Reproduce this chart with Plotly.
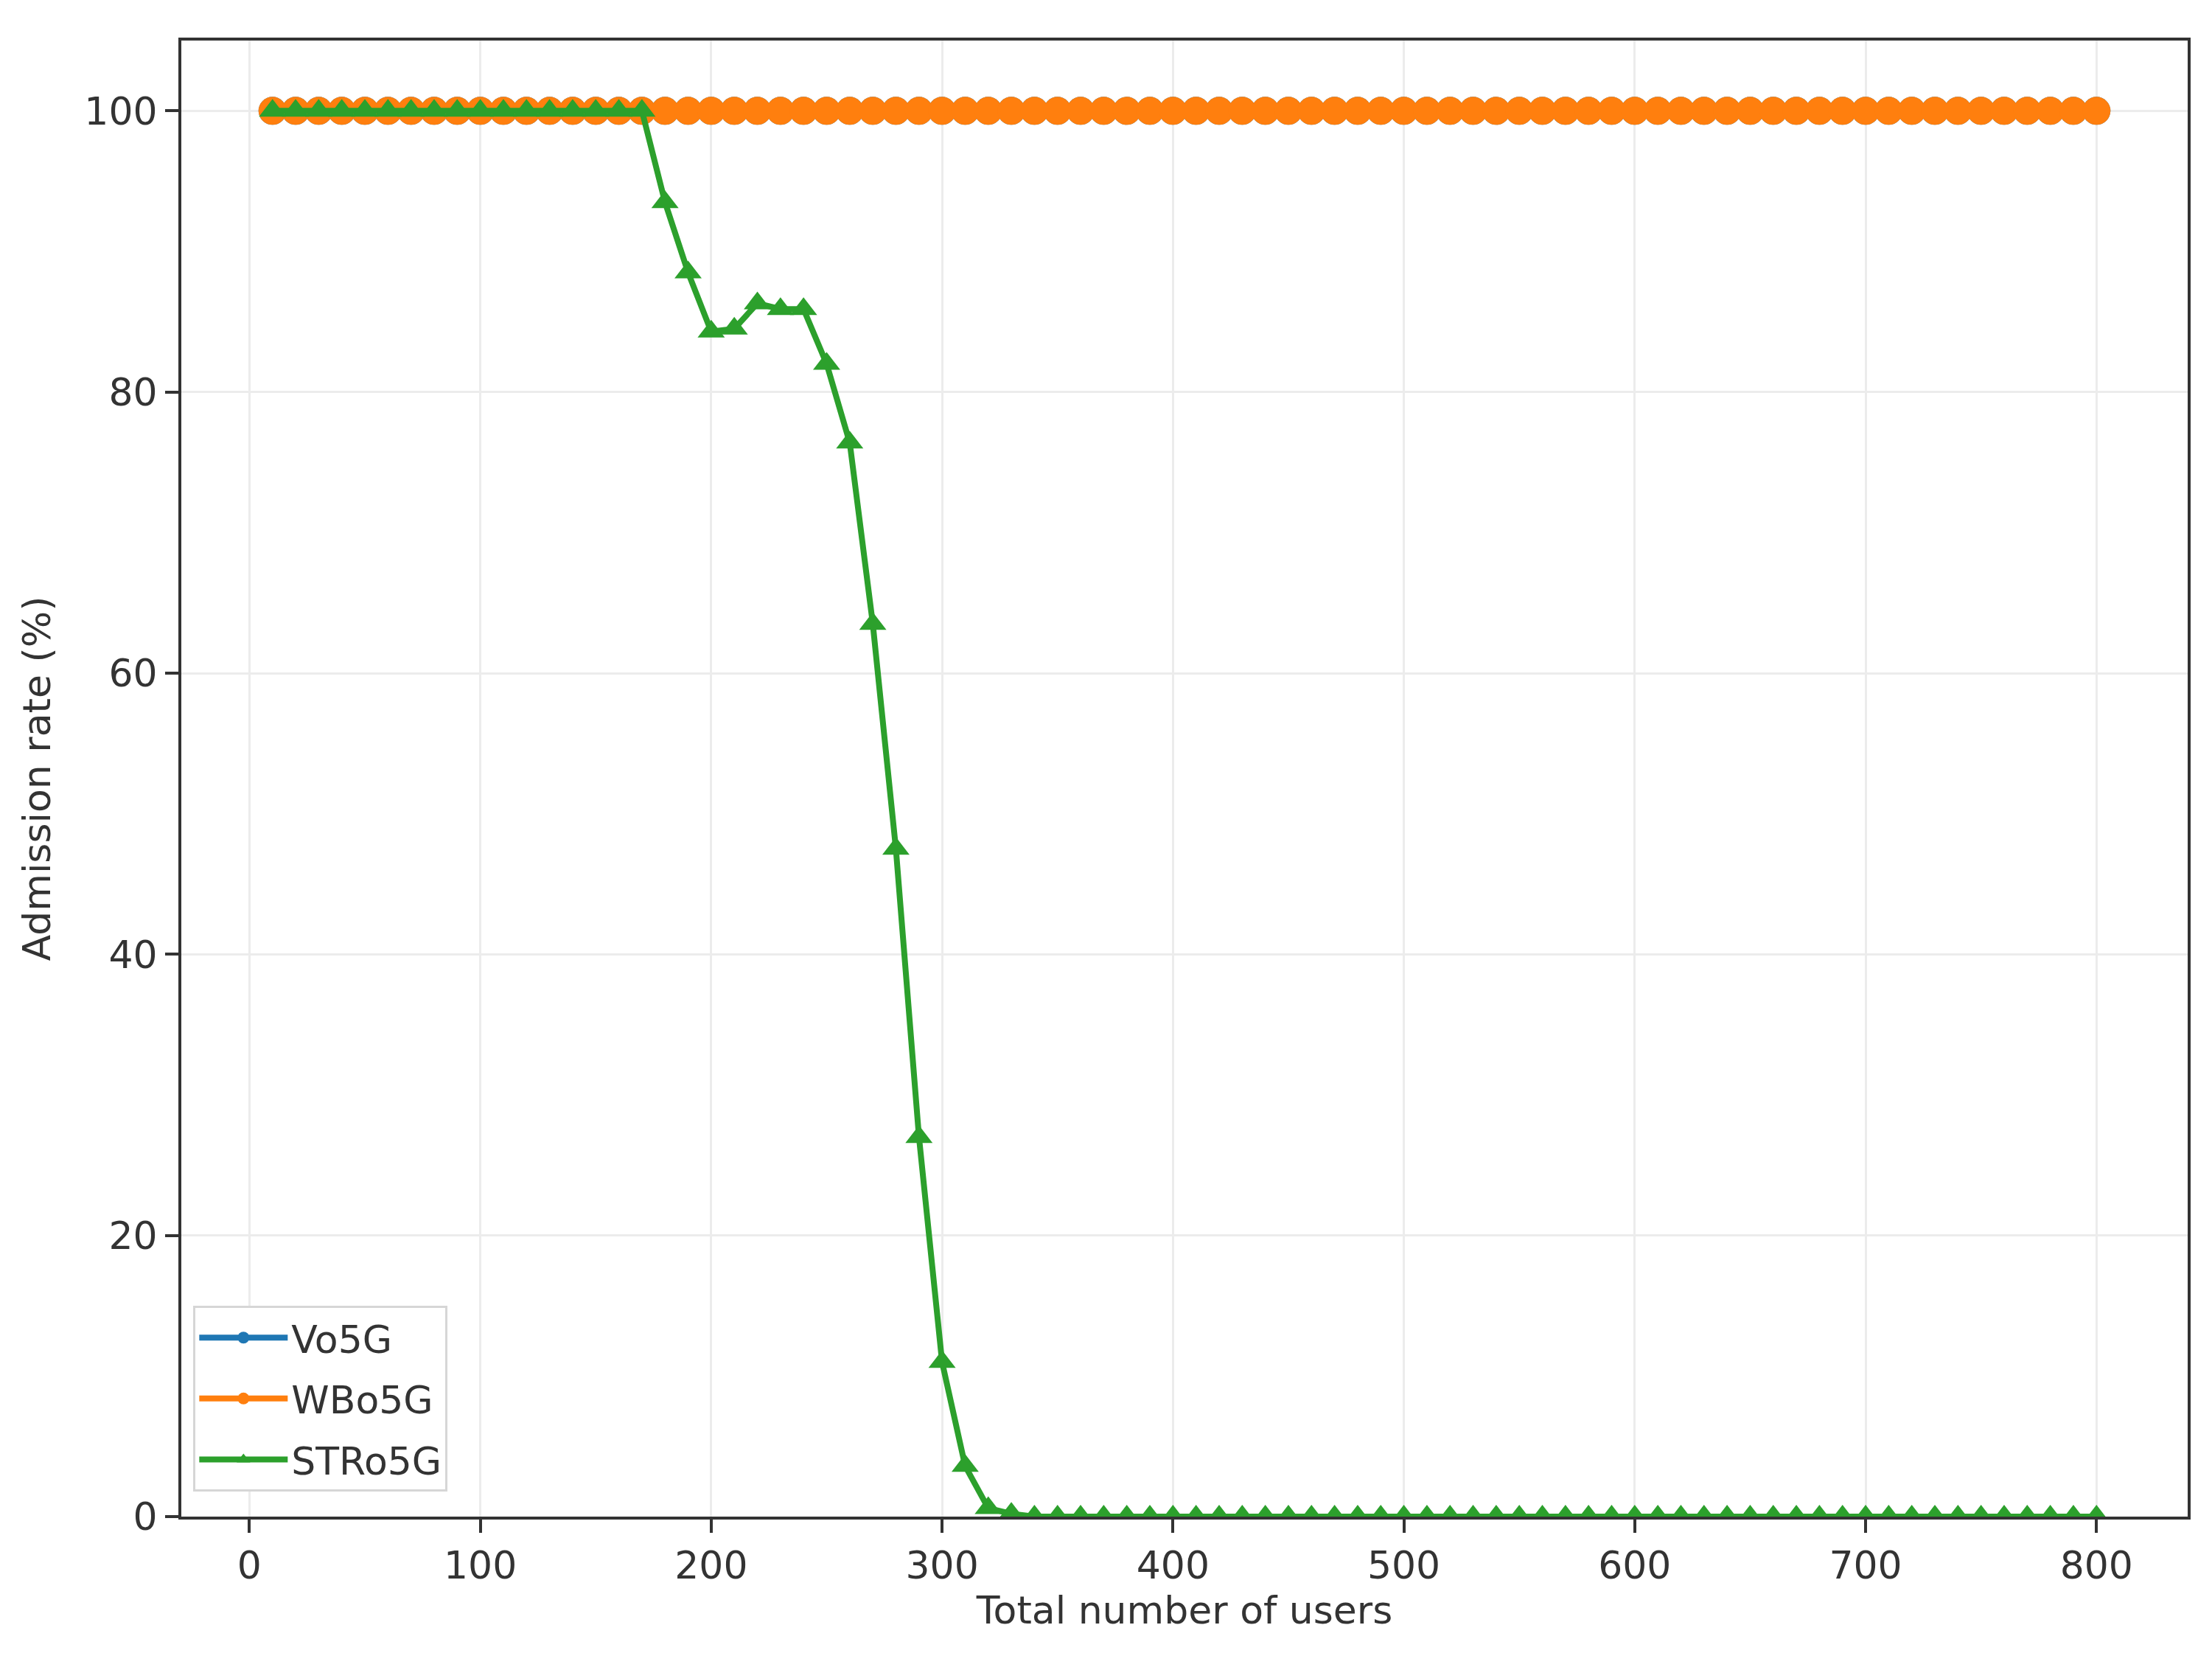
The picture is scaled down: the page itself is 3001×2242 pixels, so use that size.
import plotly.graph_objects as go

# number of users (x axis)
users = [10, 20, 30, 40, 50, 60, 70, 80, 90, 100,
         110, 120, 130, 140, 150, 160, 170, 180, 190, 200,
         210, 220, 230, 240, 250, 260, 270, 280, 290, 300,
         310, 320, 330, 340, 350, 360, 370, 380, 390, 400,
         410, 420, 430, 440, 450, 460, 470, 480, 490, 500,
         510, 520, 530, 540, 550, 560, 570, 580, 590, 600,
         610, 620, 630, 640, 650, 660, 670, 680, 690, 700,
         710, 720, 730, 740, 750, 760, 770, 780, 790, 800]

# admission rate (%) per scheme
vo5g = [100, 100, 100, 100, 100, 100, 100, 100, 100, 100,
        100, 100, 100, 100, 100, 100, 100, 100, 100, 100,
        100, 100, 100, 100, 100, 100, 100, 100, 100, 100,
        100, 100, 100, 100, 100, 100, 100, 100, 100, 100,
        100, 100, 100, 100, 100, 100, 100, 100, 100, 100,
        100, 100, 100, 100, 100, 100, 100, 100, 100, 100,
        100, 100, 100, 100, 100, 100, 100, 100, 100, 100,
        100, 100, 100, 100, 100, 100, 100, 100, 100, 100]
wbo5g = [100, 100, 100, 100, 100, 100, 100, 100, 100, 100,
         100, 100, 100, 100, 100, 100, 100, 100, 100, 100,
         100, 100, 100, 100, 100, 100, 100, 100, 100, 100,
         100, 100, 100, 100, 100, 100, 100, 100, 100, 100,
         100, 100, 100, 100, 100, 100, 100, 100, 100, 100,
         100, 100, 100, 100, 100, 100, 100, 100, 100, 100,
         100, 100, 100, 100, 100, 100, 100, 100, 100, 100,
         100, 100, 100, 100, 100, 100, 100, 100, 100, 100]
stro5g = [100, 100, 100, 100, 100, 100, 100, 100, 100, 100,
          100, 100, 100, 100, 100, 100, 100, 93.5, 88.5, 84.3,
          84.5, 86.3, 85.9, 85.9, 82.0, 76.4, 63.5, 47.5, 27.0, 11.0,
          3.6, 0.6, 0.2, 0, 0, 0, 0, 0, 0, 0,
          0, 0, 0, 0, 0, 0, 0, 0, 0, 0,
          0, 0, 0, 0, 0, 0, 0, 0, 0, 0,
          0, 0, 0, 0, 0, 0, 0, 0, 0, 0,
          0, 0, 0, 0, 0, 0, 0, 0, 0, 0]

x_ticks = [0, 100, 200, 300, 400, 500, 600, 700, 800]
y_ticks = [0, 20, 40, 60, 80, 100]

FONT = 'DejaVu Sans'
FS = 52

fig = go.Figure()
fig.add_trace(go.Scatter(x=users, y=vo5g, name='Vo5G', mode='lines+markers', legendgroup='a',
                         line=dict(color='#1f77b4', width=8),
                         marker=dict(symbol='circle', size=38, color='#1f77b4')))
fig.add_trace(go.Scatter(x=users, y=wbo5g, name='WBo5G', mode='lines+markers', legendgroup='b',
                         line=dict(color='#ff7f0e', width=8),
                         marker=dict(symbol='circle', size=38, color='#ff7f0e')))
fig.add_trace(go.Scatter(x=users, y=stro5g, name='STRo5G', mode='lines+markers', legendgroup='c',
                         line=dict(color='#2ca02c', width=8),
                         marker=dict(symbol='triangle-up', size=32, color='#2ca02c')))

axis_common = dict(showline=True, linecolor='#333333', linewidth=4, mirror=True,
                   showgrid=True, gridcolor='#ececec', gridwidth=3, zeroline=False,
                   ticks='outside', ticklen=18, tickwidth=4, tickcolor='#333333',
                   tickfont=dict(family=FONT, size=FS, color='#333333'))

fig.update_xaxes(range=[-29.5, 839.5], tickvals=x_ticks,
                 title=dict(text='Total number of users', standoff=14,
                            font=dict(family=FONT, size=FS, color='#333333')),
                 **axis_common)
fig.update_yaxes(range=[0, 105], tickvals=y_ticks,
                 title=dict(text='Admission rate (%)', standoff=30,
                            font=dict(family=FONT, size=FS, color='#333333')),
                 **axis_common)

fig.update_layout(
    width=3001, height=2242,
    margin=dict(l=238, r=41, t=47, b=193),
    plot_bgcolor='white', paper_bgcolor='white',
    font=dict(family=FONT, size=FS, color='#333333'),
    legend=dict(x=0.006, y=0.017, xanchor='left', yanchor='bottom',
                bgcolor='white', bordercolor='#d6d6d6', borderwidth=3,
                font=dict(family=FONT, size=FS, color='#333333'),
                itemwidth=120, tracegroupgap=12, itemsizing='trace'),
)

fig.write_html("out.html")
